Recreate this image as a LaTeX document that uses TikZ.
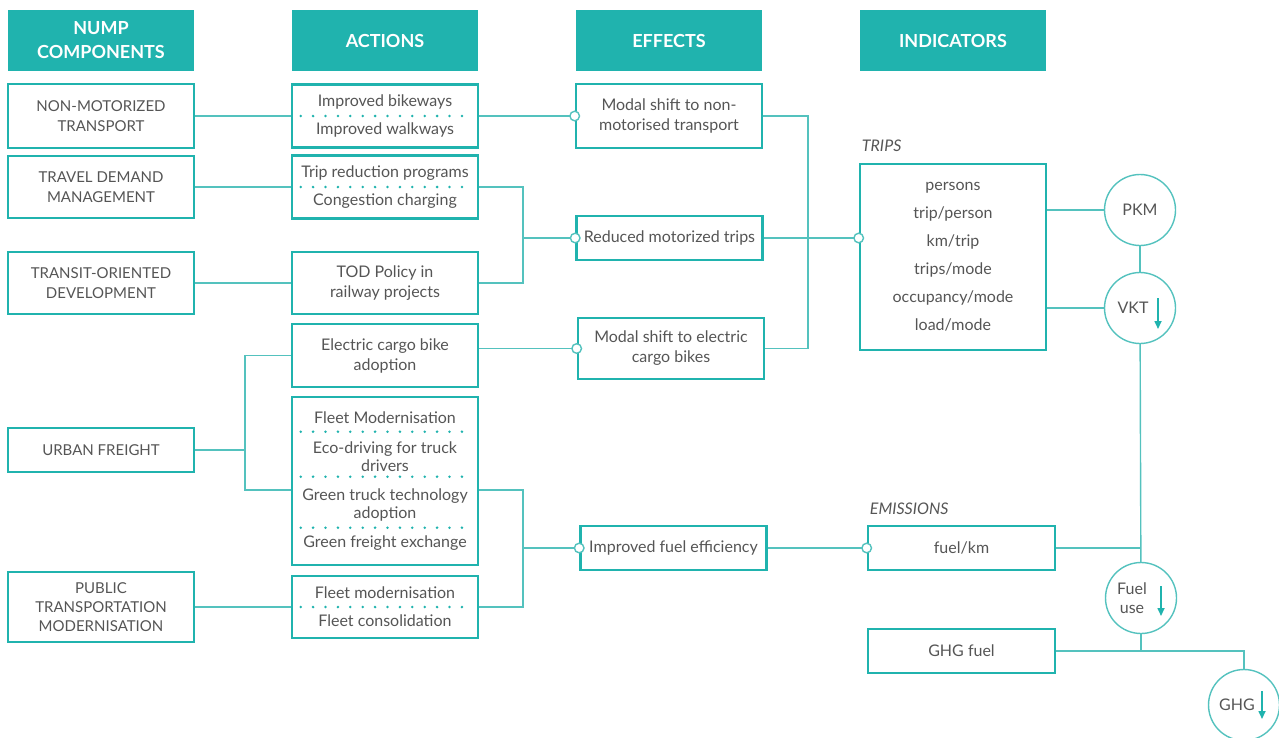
\documentclass[tikz,border=0pt]{standalone}
\usepackage{fontspec}
\setmainfont{Lato}
\usetikzlibrary{arrows.meta,positioning}
\definecolor{nteal}{RGB}{32,179,174}
\definecolor{nline}{RGB}{84,194,190}
\definecolor{ntext}{RGB}{85,85,85}

\begin{document}
\begin{tikzpicture}[x=1pt,y=-1pt,node distance=284pt,
    hdr/.style={fill=nteal,text=white,font=\fontsize{18}{24}\selectfont\bfseries,
      minimum width=186pt,minimum height=61pt,align=center,inner sep=0pt},
    box/.style={draw=nteal,line width=2.6pt,text=ntext,font=\fontsize{16}{19}\selectfont,
      minimum width=186pt,align=center,inner sep=2pt},
    comp/.style={box,font=\fontsize{15}{20}\selectfont},
    ind/.style={circle,draw=nline,line width=1.4pt,text=ntext,font=\fontsize{16}{19}\selectfont,
      minimum size=71pt,inner sep=0pt,align=center},
    lbl/.style={text=ntext,font=\fontsize{16}{19}\selectfont\itshape,anchor=south west,inner sep=0pt},
    link/.style={draw=nline,line width=1.4pt},
    hit/.style={link,-{Circle[open,fill=white,length=11pt,width=11pt]},shorten >=-5.5pt},
    sep/.style={draw=nteal,line width=2.8pt,line cap=round,dash pattern=on 0pt off 12.4pt},
    down/.style={draw=nteal,line width=1.6pt,-{Triangle[length=8pt,width=7pt]}}]
  \useasboundingbox (0,0) rectangle (1279,737);

  \node[hdr]               (hcomp) at (101,40.5) {NUMP\\COMPONENTS};
  \node[hdr,right of=hcomp] (hact)  {ACTIONS};
  \node[hdr,right of=hact]  (heff)  {EFFECTS};
  \node[hdr,right of=heff]  (hind)  {INDICATORS};

  \node[comp,minimum height=64pt] (nmt) at (101,116) {NON-MOTORIZED\\TRANSPORT};
  \node[comp,minimum height=62pt] (tdm) at (101,187) {TRAVEL DEMAND\\MANAGEMENT};
  \node[comp,minimum height=62pt] (tod) at (101,283) {TRANSIT-ORIENTED\\DEVELOPMENT};
  \node[comp,minimum height=44pt] (uf)  at (101,450) {URBAN FREIGHT};
  \node[comp,minimum height=70pt,font=\fontsize{15}{19}\selectfont] (ptm) at (101,607) {PUBLIC\\TRANSPORTATION\\MODERNISATION};

  \node[box,minimum height=63pt,right of=nmt] (walk)  {Improved bikeways\\[9pt]Improved walkways};
  \node[box,minimum height=63pt,right of=tdm] (trip)  {Trip reduction programs\\[9pt]Congestion charging};
  \node[box,minimum height=62pt,right of=tod,font=\fontsize{16}{20}\selectfont] (todp)  {TOD Policy in\\railway projects};
  \node[box,minimum height=63pt,font=\fontsize{16}{20}\selectfont] (cargo) at (385,355.5) {Electric cargo bike\\adoption};
  \node[box,minimum height=168pt,font=\fontsize{16}{18}\selectfont] (fleet) at (385,481)
    {Fleet Modernisation\\[12pt]Eco-driving for truck\\drivers\\[11pt]Green truck technology\\adoption\\[11pt]Green freight exchange};
  \node[box,minimum height=62pt,right of=ptm] (ptact) {Fleet modernisation\\[9pt]Fleet consolidation};

  \node[box,minimum height=64pt,right of=walk,font=\fontsize{16}{20}\selectfont] (e1) {Modal shift to non-\\motorised transport};
  \node[box,minimum height=44pt] (e2) at (669.5,238) {Reduced motorized trips};
  \node[box,minimum height=61pt,font=\fontsize{16}{20}\selectfont] (e3) at (671,348.5) {Modal shift to electric\\cargo bikes};
  \node[box,minimum height=44pt] (e4) at (673.5,548) {Improved fuel efficiency};

  \node[box,minimum height=186pt] (trips) at (953,257)
    {persons\\[9pt]trip/person\\[9pt]km/trip\\[9pt]trips/mode\\[9pt]occupancy/mode\\[9pt]load/mode};
  \node[box,minimum width=187pt,minimum height=44pt] (fuelkm)  at (961.5,548) {fuel/km};
  \node[box,minimum width=187pt,minimum height=44pt] (ghgfuel) at (961.5,651) {GHG fuel};
  \node[lbl] (ltrips) at ([xshift=3pt,yshift=11pt]trips.north west) {TRIPS};
  \node[lbl] (lemis)  at ([xshift=3pt,yshift=10pt]fuelkm.north west) {EMISSIONS};

  \node[ind] (pkm)  at (1140,210) {PKM};
  \node[ind] (vkt)  at (1140,308) {VKT\hspace*{14pt}};
  \node[ind] (fuel) at (1141,598) {Fuel\hspace*{18pt}\\use\hspace*{18pt}};
  \node[ind] (ghg)  at (1244,705) {GHG\hspace*{14pt}};
  \draw[down] ([xshift=18pt,yshift=10pt]vkt.center)  -- ([xshift=18pt,yshift=-21pt]vkt.center);
  \draw[down] ([xshift=20pt,yshift=12pt]fuel.center) -- ([xshift=20pt,yshift=-18pt]fuel.center);
  \draw[down] ([xshift=18pt,yshift=14pt]ghg.center)  -- ([xshift=18pt,yshift=-14pt]ghg.center);

  \foreach \b in {walk,trip,ptact}
    \draw[sep] ([xshift=10pt]\b.west) -- ([xshift=-10pt]\b.east);
  \foreach \d in {36,81,132}
    \draw[sep] ([xshift=10pt,yshift=-\d pt]fleet.north west) -- ([xshift=-10pt,yshift=-\d pt]fleet.north east);

  \coordinate (j1) at (245,0);
  \coordinate (j2) at (523,0);
  \coordinate (j3) at (808,0);
  \coordinate (fleetin)  at ([yshift=-9pt]fleet.west);
  \coordinate (fleetout) at ([yshift=-9pt]fleet.east);

  \draw[link] (nmt) -- (walk);
  \draw[link] (tdm) -- (trip);
  \draw[link] (tod) -- (todp);
  \draw[link] (ptm) -- (ptact);
  \draw[link] (uf) -- (j1 |- uf.east);
  \draw[link] (cargo.west) -| (j1 |- fleetin) -- (fleetin);

  \draw[hit]  (walk.east) -- (e1.west);
  \draw[link] (trip.east) -| (j2 |- todp.east) -- (todp.east);
  \draw[hit]  (j2 |- e2.west) -- (e2.west);
  \draw[hit]  (cargo.east |- e3.west) -- (e3.west);
  \draw[link] (fleetout) -| (j2 |- ptact.east) -- (ptact.east);
  \draw[hit]  (j2 |- e4.west) -- (e4.west);

  \draw[link] (e1.east) -| (j3 |- e3.east) -- (e3.east);
  \draw[hit]  (e2.east) -- (trips.west |- e2.east);
  \draw[hit]  (e4.east) -- (fuelkm.west);

  \draw[link] (trips.east |- pkm.west) -- (pkm.west);
  \draw[link] (trips.east |- vkt.west) -- (vkt.west);
  \draw[link] (pkm) -- (vkt);
  \draw[link] (vkt) -- (fuel);
  \draw[link] (fuelkm.east) -- (vkt.south |- fuelkm.east);
  \draw[link] (fuel.south) -- (fuel.south |- ghgfuel.east);
  \draw[link] (ghgfuel.east) -| (ghg.north);
\end{tikzpicture}
\end{document}
